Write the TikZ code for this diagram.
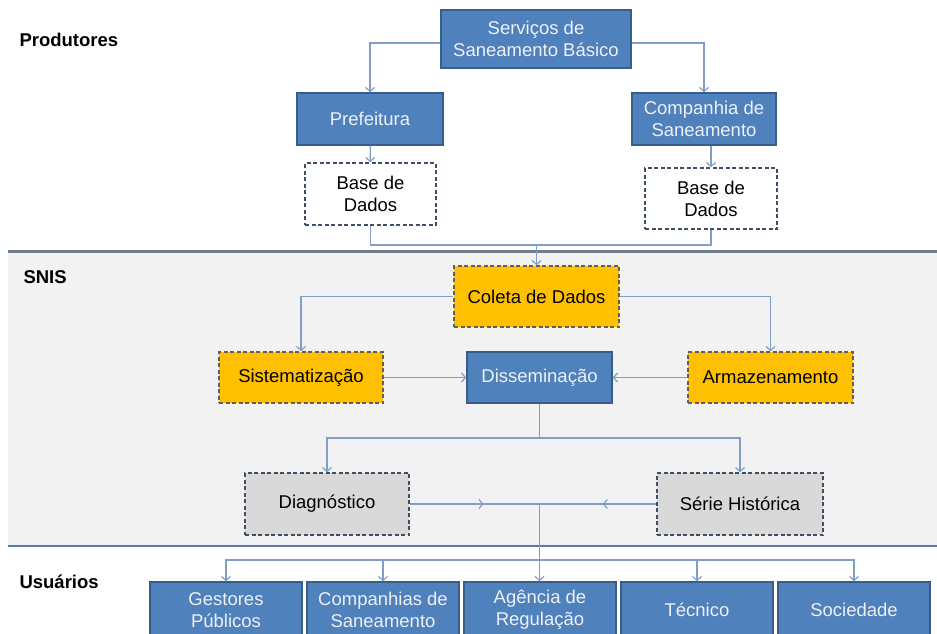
\documentclass[tikz,border=0pt]{standalone}
\usepackage{fontspec}
\setmainfont{Liberation Sans}
\usetikzlibrary{arrows.meta, positioning, decorations.markings}
\definecolor{boxblue}{RGB}{79,129,189}
\definecolor{boxblueline}{RGB}{56,93,138}
\definecolor{boxyellow}{RGB}{255,192,0}
\definecolor{boxgray}{RGB}{217,217,217}
\definecolor{dashgray}{RGB}{95,95,95}
\definecolor{dashblue}{RGB}{62,80,102}
\definecolor{linkblue}{RGB}{128,158,200}
\definecolor{bandgray}{RGB}{242,242,242}
\definecolor{sepgray}{RGB}{112,126,140}
\definecolor{sepblue}{RGB}{88,122,166}
\definecolor{textwhite}{RGB}{238,240,244}
\tikzstyle{line} = [draw=linkblue, line width=1.2pt]
\tikzstyle{arrow} = [line, -{Straight Barb[length=4pt,width=9pt]}]
\tikzset{
	basebox/.style = {rectangle, inner sep=0pt, align=center,
		font=\fontsize{18.5}{22}\selectfont},
	blueproc/.style = {basebox, fill=boxblue, draw=boxblueline, line width=1.5pt, text=textwhite},
	yellowproc/.style = {basebox, fill=boxyellow, draw=dashgray, line width=1.5pt, dash pattern=on 4pt off 2.5pt},
	grayproc/.style = {basebox, fill=boxgray, draw=dashblue, line width=1.5pt, dash pattern=on 4pt off 2.5pt},
	database/.style = {basebox, fill=white, draw=dashblue, line width=1.5pt, dash pattern=on 4pt off 2.5pt},
	userbox/.style = {blueproc, minimum width=152pt, minimum height=56pt},
	layer/.style = {anchor=west, font=\fontsize{18.5}{22}\selectfont\bfseries},
	midarrow/.style = {line, postaction={decorate},
		decoration={markings, mark=at position #1 with {\arrow{Straight Barb[length=4pt,width=9pt]}}}}
}

\begin{document}
\begin{tikzpicture}[x=1pt, y=-1pt, node distance=157pt]
\useasboundingbox (0,0) rectangle (937,634);
\clip (0,0) rectangle (937,634);
%----------------------------------------------------------------------------
% Layers
\fill[bandgray] (8,252) rectangle (937,545);
\draw[sepgray, line width=3pt] (8,251) -- (937,251);
\draw[sepblue, line width=2.5pt] (8,546) -- (937,546);
\node (prodLabel) [layer] at (16,40) {Produtores};
\node (snisLabel) [layer] at (20,277) {SNIS};
\node (userLabel) [layer] at (16,582) {Usuários};

%----------------------------------------------------------------------------
% Placement of nodes
\node (servSan) [blueproc, minimum width=190pt, minimum height=58pt] at (536,39) {Serviços de\\Saneamento Básico};
\node (prefeitura) [blueproc, minimum width=146pt, minimum height=52pt] at (370,119) {Prefeitura};
\node (compSan) [blueproc, minimum width=144pt, minimum height=52pt] at (704,119) {Companhia de\\Saneamento};
\node (baseDadosL) [database, minimum width=131pt, minimum height=62pt] at (370.5,194) {Base de\\Dados};
\node (baseDadosR) [database, minimum width=132pt, minimum height=61pt] at (711,198.5) {Base de\\Dados};

\node (coleta) [yellowproc, minimum width=165pt, minimum height=61pt] at (536.5,296.5) {Coleta de Dados};
\node (sistem) [yellowproc, minimum width=164pt, minimum height=51pt] at (301,377.5) {Sistematização};
\node (dissem) [blueproc, minimum width=145pt, minimum height=51pt] at (539.5,377.5) {Disseminação};
\node (armaz) [yellowproc, minimum width=165pt, minimum height=51pt] at (770.5,377.5) {Armazenamento};
\node (diagn) [grayproc, minimum width=164pt, minimum height=62pt] at (327,504) {Diagnóstico};
\node (serieHist) [grayproc, minimum width=166pt, minimum height=62pt] at (740,504) {Série Histórica};

\node (gestores) [userbox] at (226,610) {Gestores\\Públicos};
\node (compSan2) [userbox, right of = gestores] {Companhias de\\Saneamento};
\node (agencia) [userbox, right of = compSan2] {Agência de\\Regulação};
\node (tecnico) [userbox, right of = agencia] {Técnico};
\node (sociedade) [userbox, right of = tecnico] {Sociedade};

%----------------------------------------------------------------------------
% Lines
\draw [arrow] ([yshift=-4pt]servSan.west) -| (prefeitura.north);
\draw [arrow] ([yshift=-4pt]servSan.east) -| (compSan.north);
\draw [arrow] (prefeitura) -- (baseDadosL);
\draw [arrow] (compSan.south -| baseDadosR.north) -- (baseDadosR);

\coordinate (bdJoin) at (536.5,245);
\draw [line] (baseDadosL.south) |- (bdJoin);
\draw [line] (baseDadosR.south) |- (bdJoin);
\draw [arrow] (bdJoin) -- (coleta);

\draw [arrow] (coleta.west) -| (sistem.north);
\draw [arrow] (coleta.east) -| (armaz.north);
\draw [arrow] (sistem) -- (dissem);
\draw [arrow] (armaz) -- (dissem);

\coordinate (splitY) at (0,438);
\coordinate (split) at (dissem.south |- splitY);
\draw [line] (dissem) -- (split);
\draw [arrow] (split) -| (diagn.north);
\draw [arrow] (split) -| (serieHist.north);

\coordinate (join) at (dissem.south |- diagn.east);
\draw [midarrow=0.57] (diagn.east) -- (join);
\draw [midarrow=0.46] (serieHist.west) -- (join);
\draw [arrow] (join) -- (join |- agencia.north);

\coordinate (uBarY) at (0,560);
\coordinate (uBar) at (agencia.north |- uBarY);
\draw [arrow] (uBar) -| (gestores.north);
\draw [arrow] (uBar) -| (compSan2.north);
\draw [arrow] (uBar) -| (tecnico.north);
\draw [arrow] (uBar) -| (sociedade.north);
\end{tikzpicture}
\end{document}
